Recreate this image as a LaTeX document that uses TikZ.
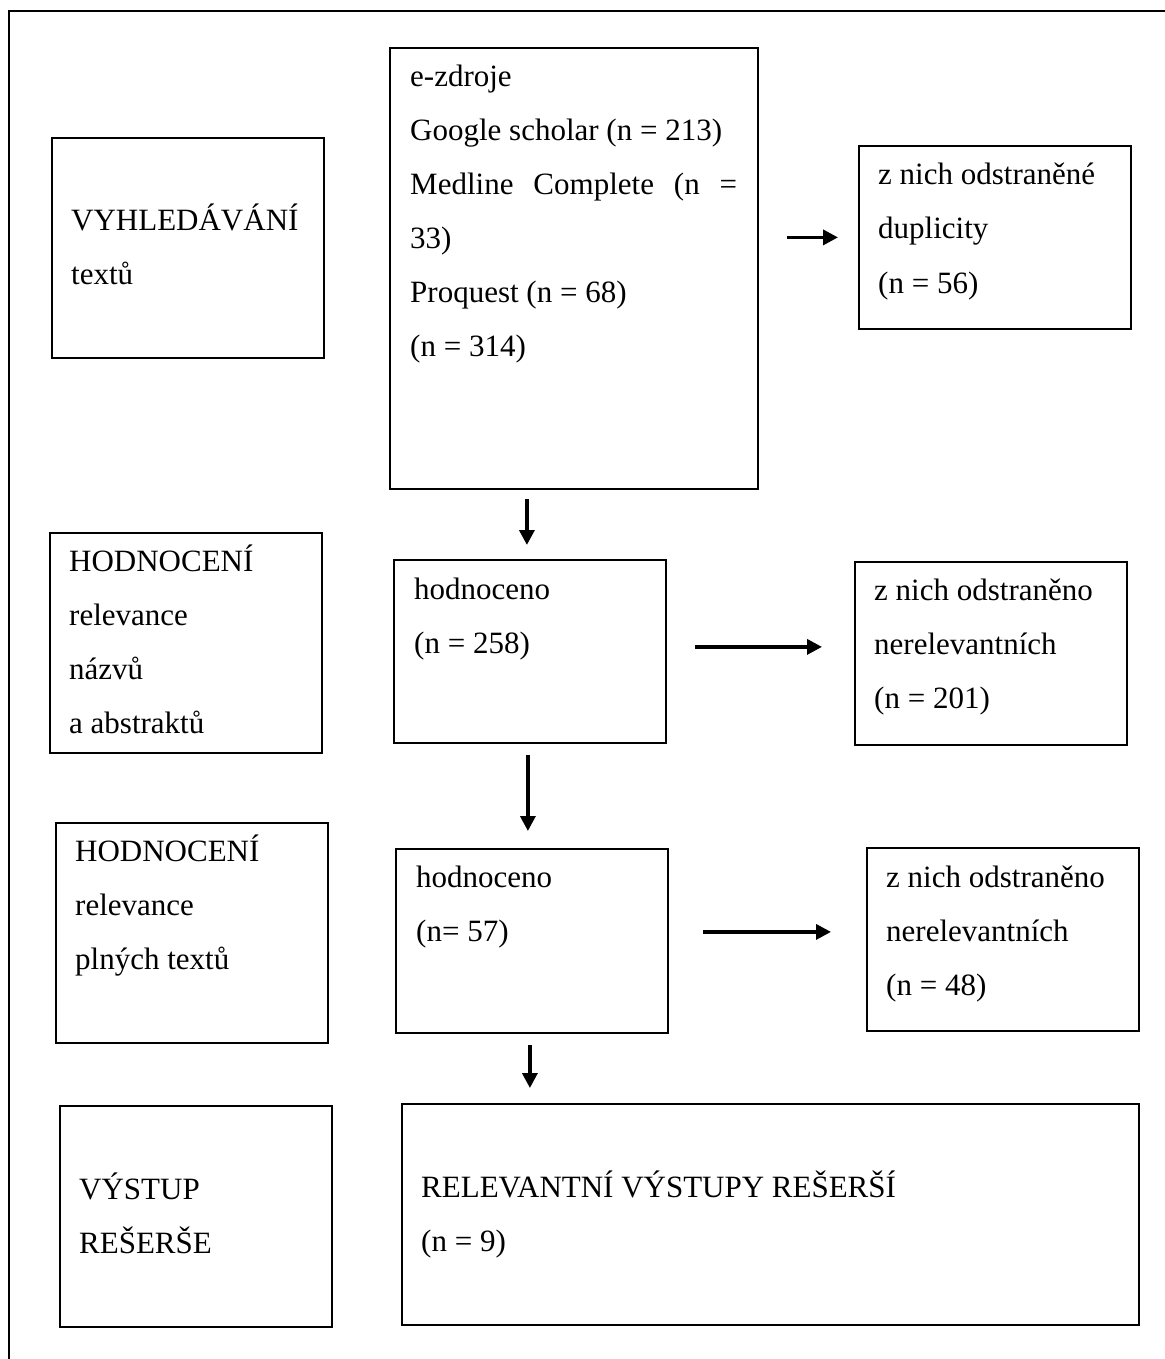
\documentclass[tikz,border=0pt]{standalone}
\usepackage{fontspec}
\setmainfont{Liberation Serif}
\usetikzlibrary{arrows.meta}
\begin{document}
\begin{tikzpicture}[x=1pt,y=-1pt,
  box/.style={draw, line width=1.8pt, anchor=north west, inner sep=0pt},
  txt/.style={anchor=base west, inner sep=0pt, font=\fontsize{31}{54}\selectfont},
  arr/.style={line width=3.5pt, -{Triangle[length=15pt,width=15pt]}}]
\useasboundingbox (0,0) rectangle (1164,1359);
\draw[line width=2pt] (9,1362) -- (9,11) -- (1166,11);
% boxes
\node[box, minimum width=272pt, minimum height=220pt] (vyh) at (51,137) {};
\node[box, minimum width=368pt, minimum height=441pt] (ez) at (389,47) {};
\node[box, minimum width=272pt, minimum height=183pt] (dup) at (858,145) {};
\node[box, minimum width=272pt, minimum height=220pt] (h1l) at (49,532) {};
\node[box, minimum width=272pt, minimum height=183pt] (hod1) at (393,559) {};
\node[box, minimum width=272pt, minimum height=183pt] (rem1) at (854,561) {};
\node[box, minimum width=272pt, minimum height=220pt] (h2l) at (55,822) {};
\node[box, minimum width=272pt, minimum height=184pt] (hod2) at (395,848) {};
\node[box, minimum width=272pt, minimum height=183pt] (rem2) at (866,847) {};
\node[box, minimum width=272pt, minimum height=221pt] (vys) at (59,1105) {};
\node[box, minimum width=737pt, minimum height=221pt] (rel) at (401,1103) {};
% texts
\node[txt] (vyht) at (71,230) {\begin{tabular}[t]{@{}l@{}}VYHLEDÁVÁNÍ\\ textů\end{tabular}};
\node[txt] (ezt) at (410,87) {\begin{tabular}[t]{@{}l@{}}e-zdroje\\ Google scholar (n = 213)\\ \makebox[327pt][l]{Medline\hfill Complete\hfill (n\hfill =}\\ 33)\\ Proquest (n = 68)\\ (n = 314)\end{tabular}};
\node[txt] (dupt) at (878,185) {\begin{tabular}[t]{@{}l@{}}z nich odstraněné\\ duplicity\\ (n = 56)\end{tabular}};
\node[txt] (h1lt) at (69,571) {\begin{tabular}[t]{@{}l@{}}HODNOCENÍ\\ relevance\\ názvů\\ a abstraktů\end{tabular}};
\node[txt] (h1t) at (414,599) {\begin{tabular}[t]{@{}l@{}}hodnoceno\\ (n = 258)\end{tabular}};
\node[txt] (r1t) at (874,600) {\begin{tabular}[t]{@{}l@{}}z nich odstraněno\\ nerelevantních\\ (n = 201)\end{tabular}};
\node[txt] (h2lt) at (75,861) {\begin{tabular}[t]{@{}l@{}}HODNOCENÍ\\ relevance\\ plných textů\end{tabular}};
\node[txt] (h2t) at (416,887) {\begin{tabular}[t]{@{}l@{}}hodnoceno\\ (n= 57)\end{tabular}};
\node[txt] (r2t) at (886,887) {\begin{tabular}[t]{@{}l@{}}z nich odstraněno\\ nerelevantních\\ (n = 48)\end{tabular}};
\node[txt] (vyst) at (79,1199) {\begin{tabular}[t]{@{}l@{}}VÝSTUP\\ REŠERŠE\end{tabular}};
\node[txt] (relt) at (421,1197) {\begin{tabular}[t]{@{}l@{}}RELEVANTNÍ VÝSTUPY REŠERŠÍ\\ (n = 9)\end{tabular}};
% arrows
\draw[arr, shorten <=28pt, shorten >=20pt] (ez.east |- dup.west) -- (dup.west);
\coordinate (a2) at ([xshift=-3pt]hod1.north);
\draw[arr, shorten <=9pt, shorten >=14pt] (a2 |- ez.south) -- (a2);
\coordinate (a3) at ([yshift=4.5pt]hod1.east);
\draw[arr, shorten <=28pt, shorten >=32pt] (a3) -- (a3 -| rem1.west);
\coordinate (a4) at ([xshift=-2pt]hod1.south);
\draw[arr, shorten <=11pt, shorten >=17pt] (a4) -- (a4 |- hod2.north);
\coordinate (a5) at ([yshift=9pt]hod2.east);
\draw[arr, shorten <=34pt, shorten >=35pt] (a5) -- (a5 -| rem2.west);
\coordinate (a6) at ([xshift=-2pt]hod2.south);
\draw[arr, shorten <=11pt, shorten >=15pt] (a6) -- (a6 |- rel.north);
\end{tikzpicture}
\end{document}
